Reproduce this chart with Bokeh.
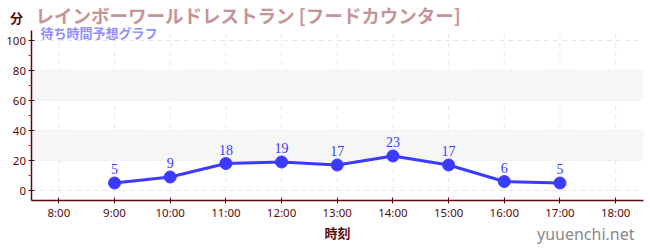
from bokeh.plotting import figure
from bokeh.models import (Range1d, FixedTicker, BoxAnnotation, Label, ColumnDataSource, LabelSet)
from bokeh.embed import file_html
from bokeh.resources import INLINE

hours = [9, 10, 11, 12, 13, 14, 15, 16, 17]
waits = [5, 9, 18, 19, 17, 23, 17, 6, 5]
tick_hours = [8, 9, 10, 11, 12, 13, 14, 15, 16, 17, 18]
tick_labels = ["8:00", "9:00", "10:00", "11:00", "12:00", "13:00", "14:00", "15:00", "16:00", "17:00", "18:00"]
y_ticks = [0, 20, 40, 60, 80, 100]
y_minor = [10, 30, 50, 70, 90]
bands = [(20, 40), (60, 80)]
title_text = "レインボーワールドレストラン [フードカウンター]"
subtitle_text = "待ち時間予想グラフ"
y_unit = "分"
x_label = "時刻"
watermark = "yuuenchi.net"

AX = "#5a0a0a"
BLUE = "#3b3bff"
JP = "Noto Sans CJK JP"
NUM = "Noto Sans"
LAB = "Noto Sans"

W, H = 650, 250
# plotting-area extent in data units
X0, X1 = 7.5, 18.5
Y0, Y1 = -6.67, 106.67
# whole-canvas frame; axes placed inside it with fixed_location
XR = Range1d(6.952, 18.626)
YR = Range1d(-40, 126.67)

p = figure(width=W, height=H, output_backend="svg", toolbar_location=None,
           x_range=XR, y_range=YR, title=None,
           min_border=0, min_border_left=0, min_border_right=0, min_border_top=0, min_border_bottom=0)
p.outline_line_color = None
p.background_fill_color = "white"
p.grid.visible = False

for lo, hi in bands:
    p.add_layout(BoxAnnotation(left=X0, right=X1, bottom=lo, top=hi, fill_color="#f6f6f6",
                               fill_alpha=1.0, line_color=None, level="underlay"))

# dashed grid limited to the plotting area
p.segment(x0=tick_hours, x1=tick_hours, y0=[Y0] * len(tick_hours), y1=[Y1] * len(tick_hours),
          line_color="#e8e8e8", line_width=1, line_dash="5 4", level="underlay")
p.segment(x0=[X0] * len(y_ticks), x1=[X1] * len(y_ticks), y0=y_ticks, y1=y_ticks,
          line_color="#e8e8e8", line_width=1, line_dash="5 4", level="underlay")

p.xaxis.ticker = FixedTicker(ticks=tick_hours)
p.xaxis.major_label_overrides = {h: l for h, l in zip(tick_hours, tick_labels)}
p.yaxis.ticker = FixedTicker(ticks=y_ticks, minor_ticks=y_minor)
p.xaxis.fixed_location = Y0
p.yaxis.fixed_location = X0
p.xaxis.bounds = (X0, X1)
p.yaxis.bounds = (Y0, Y1)

for ax in (p.xaxis[0], p.yaxis[0]):
    ax.axis_line_color = AX
    ax.axis_line_width = 1.5
    ax.major_tick_line_color = AX
    ax.major_label_text_color = AX
    ax.major_label_text_font = NUM
    ax.major_label_text_font_style = "normal"
    ax.major_label_text_font_size = "11.5px"
    ax.major_tick_in = 3
    ax.major_tick_out = 3
p.yaxis.minor_tick_line_color = "#dd2222"
p.yaxis.minor_tick_in = 0
p.yaxis.minor_tick_out = 3
p.xaxis.minor_tick_line_color = None
p.yaxis.major_label_standoff = 2
p.xaxis.major_label_standoff = 1

p.xaxis.axis_label = x_label
p.xaxis.axis_label_text_font = JP
p.xaxis.axis_label_text_font_style = "bold"
p.xaxis.axis_label_text_font_size = "13px"
p.xaxis.axis_label_text_color = AX
p.xaxis.axis_label_standoff = 0

src = ColumnDataSource(dict(x=hours, y=waits, t=[str(v) for v in waits]))
p.line("x", "y", source=src, line_color=BLUE, line_width=3)
p.scatter("x", "y", source=src, size=12, fill_color=BLUE, line_color=BLUE)
p.add_layout(LabelSet(x="x", y="y", text="t", source=src, y_offset=9, text_align="center",
                      text_font=LAB, text_font_style="normal", text_font_size="14px",
                      text_color=BLUE))


def canvas_label(cx, cy, text, **kw):
    p.add_layout(Label(x=cx, y=H - cy, x_units="screen", y_units="screen", text=text,
                       text_baseline="middle", **kw))


canvas_label(35, 14, title_text, text_font=JP, text_font_style="bold", text_font_size="18.5px",
             text_color="#c49496")
canvas_label(40, 32, subtitle_text, text_font=JP, text_font_style="bold", text_font_size="13px",
             text_color="#8f8fff")
canvas_label(16, 17, y_unit, text_font=JP, text_font_style="bold", text_font_size="13px",
             text_color=AX, text_align="center")
canvas_label(634, 233, watermark, text_font="Noto Sans", text_font_size="16px",
             text_color="#888888", text_align="right")

open("out.html", "w").write(file_html(p, INLINE))
